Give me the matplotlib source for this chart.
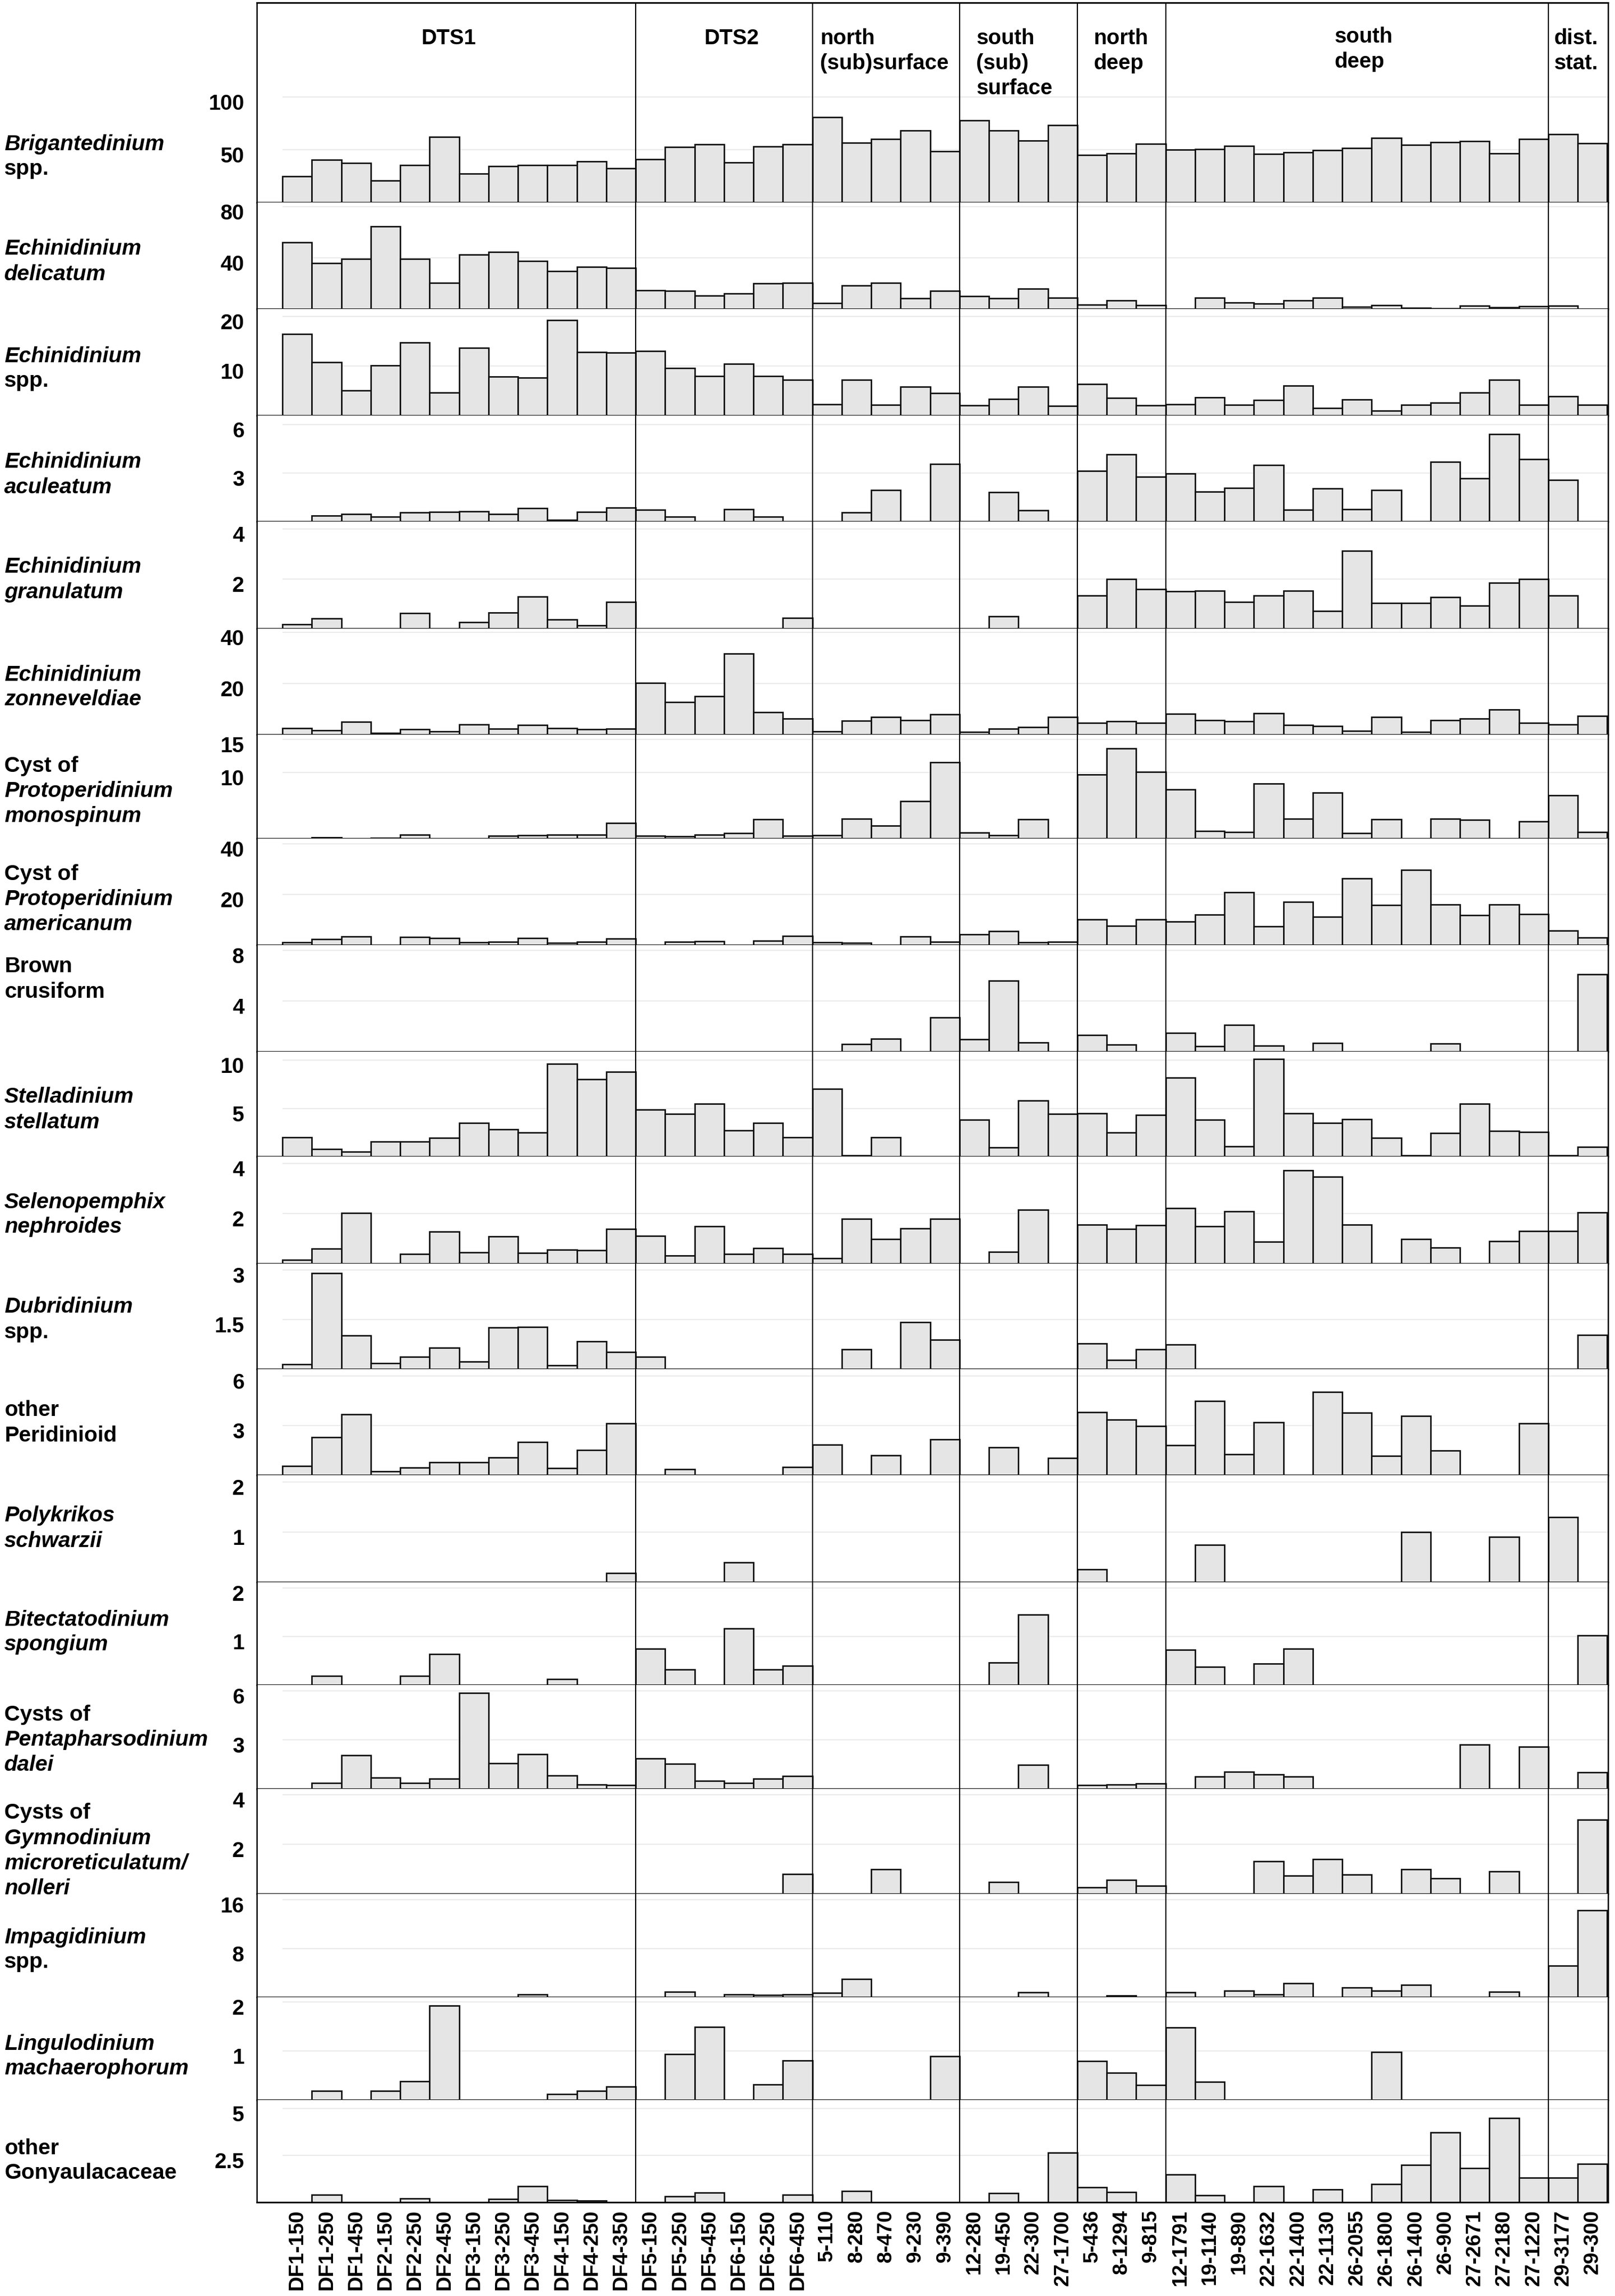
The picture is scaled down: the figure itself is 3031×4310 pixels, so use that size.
import numpy as np
import matplotlib
matplotlib.use("Agg")
import matplotlib.pyplot as plt
import matplotlib.transforms as mtransforms

plt.rcParams['font.family'] = ['Liberation Sans', 'DejaVu Sans']

# ---------------------------------------------------------------- data

samples = ["DF1-150", "DF1-250", "DF1-450", "DF2-150", "DF2-250", "DF2-450",
           "DF3-150", "DF3-250", "DF3-450", "DF4-150", "DF4-250", "DF4-350",
           "DF5-150", "DF5-250", "DF5-450", "DF6-150", "DF6-250", "DF6-450",
           "5-110", "8-280", "8-470", "9-230", "9-390",
           "12-280", "19-450", "22-300", "27-1700",
           "5-436", "8-1294", "9-815",
           "12-1791", "19-1140", "19-890", "22-1632", "22-1400", "22-1130",
           "26-2055", "26-1800", "26-1400", "26-900", "27-2671", "27-2180",
           "27-1220",
           "29-3177", "29-300"]

group_names = [["DTS1"], ["DTS2"], ["north", "(sub)surface"],
               ["south", "(sub)", "surface"], ["north", "deep"],
               ["south", "deep"], ["dist.", "stat."]]
group_sizes = [12, 6, 5, 4, 3, 13, 2]

# values per taxon, in sample order (DTS1 | DTS2 | n-sub | s-sub | n-deep | s-deep | dist)
brigantedinium = [24.6, 40.4, 37.6, 20.6, 35.3, 61.9, 27.4, 34.5, 35.3, 35.3, 39.0, 32.2,
                  41.0, 52.3, 54.8, 37.9, 52.8, 54.8,
                  80.8, 56.5, 60.2, 68.4, 48.6,
                  77.7, 68.4, 58.8, 73.2,
                  44.9, 46.3, 55.4,
                  50.0, 50.6, 53.4, 45.8, 47.5, 49.7, 51.4, 61.3, 54.5, 57.3, 57.9, 46.6, 60.2,
                  64.4, 55.9]
delicatum = [52.1, 35.8, 39.1, 64.7, 39.1, 20.5, 42.6, 44.4, 37.4, 29.5, 32.8, 31.9,
             14.7, 14.2, 10.5, 12.1, 19.8, 20.5,
             4.7, 18.4, 20.5, 8.4, 14.0,
             9.8, 8.4, 15.8, 8.8,
             3.3, 6.5, 2.8,
             0, 8.6, 5.1, 4.2, 6.5, 8.6, 1.6, 2.8, 0.7, 0.3, 2.3, 1.4, 1.9,
             2.3, 0]
echinidinium_spp = [16.4, 10.8, 5.1, 10.1, 14.7, 4.6, 13.6, 7.9, 7.6, 19.2, 12.8, 12.7,
                    13.0, 9.6, 8.0, 10.4, 8.0, 7.2,
                    2.3, 7.2, 2.1, 5.8, 4.5,
                    2.0, 3.3, 5.8, 1.9,
                    6.3, 3.5, 2.0,
                    2.3, 3.7, 2.2, 3.1, 6.0, 1.5, 3.2, 1.0, 2.1, 2.6, 4.6, 7.2, 2.1,
                    3.9, 2.1]
aculeatum = [0, 0.35, 0.47, 0.31, 0.55, 0.6, 0.64, 0.45, 0.82, 0.11, 0.6, 0.85,
             0.73, 0.29, 0, 0.76, 0.29, 0,
             0, 0.56, 1.96, 0, 3.55,
             0, 1.82, 0.69, 0,
             3.13, 4.16, 2.76,
             2.96, 1.84, 2.09, 3.49, 0.73, 2.05, 0.76, 1.95, 0, 3.69, 2.69, 5.41, 3.86,
             2.56, 0]
granulatum = [0.18, 0.40, 0, 0, 0.61, 0, 0.25, 0.64, 1.29, 0.37, 0.12, 1.07,
              0, 0, 0, 0, 0, 0.43,
              0, 0, 0, 0, 0,
              0, 0.49, 0, 0,
              1.33, 1.98, 1.58,
              1.5, 1.51, 1.07, 1.33, 1.51, 0.71, 3.13, 1.02, 1.02, 1.26, 0.93, 1.83, 1.98,
              1.33, 0]
zonneveldiae = [2.5, 1.6, 5.1, 0.7, 2.1, 1.3, 4.0, 2.2, 3.7, 2.5, 2.0, 2.2,
                20.3, 12.8, 15.0, 31.8, 8.7, 6.2,
                1.3, 5.5, 6.8, 5.7, 8.0,
                1.0, 2.3, 3.0, 6.8,
                4.5, 5.3, 4.6,
                8.2, 5.7, 5.3, 8.4, 3.7, 3.4, 1.5, 6.8, 1.0, 5.7, 6.2, 9.9, 4.6,
                3.9, 7.2]
monospinum = [0, 0.2, 0, 0.1, 0.6, 0, 0, 0.4, 0.45, 0.6, 0.6, 2.3,
              0.4, 0.35, 0.55, 0.8, 2.9, 0.4,
              0.5, 3.0, 1.95, 5.6, 11.5,
              0.9, 0.5, 2.9, 0,
              9.7, 13.6, 10.1,
              7.4, 1.1, 1.0, 8.3, 3.0, 6.9, 0.8, 2.9, 0, 3.0, 2.8, 0, 2.6,
              6.5, 1.0]
americanum = [1.05, 2.3, 3.4, 0, 3.2, 2.8, 1.05, 1.2, 2.8, 0.8, 1.2, 2.6,
              0, 1.2, 1.4, 0, 1.75, 3.5,
              1.1, 0.8, 0, 3.4, 1.2,
              4.3, 5.5, 1.05, 1.2,
              10.0, 7.5, 10.2,
              9.2, 11.9, 20.8, 7.4, 17.0, 11.1, 26.3, 15.8, 29.6, 16.0, 11.7, 16.0, 12.3,
              5.7, 2.9]
brown_crusiform = [0, 0, 0, 0, 0, 0, 0, 0, 0, 0, 0, 0,
                   0, 0, 0, 0, 0, 0,
                   0, 0.6, 1.03, 0, 2.7,
                   0.96, 5.6, 0.7, 0,
                   1.3, 0.56, 0,
                   1.47, 0.4, 2.1, 0.47, 0, 0.68, 0, 0, 0, 0.63, 0, 0, 0,
                   0, 6.1]
stelladinium = [2.0, 0.77, 0.49, 1.56, 1.53, 1.93, 3.47, 2.8, 2.5, 9.6, 8.0, 8.8,
                4.85, 4.4, 5.46, 2.7, 3.5, 2.0,
                7.0, 0.1, 2.0, 0, 0,
                3.8, 0.95, 5.8, 4.4,
                4.5, 2.5, 4.3,
                8.2, 3.8, 1.07, 10.1, 4.5, 3.47, 3.9, 1.96, 0.09, 2.45, 5.5, 2.67, 2.55,
                0.1, 1.0]
selenopemphix = [0.15, 0.59, 2.02, 0, 0.39, 1.28, 0.45, 1.09, 0.42, 0.56, 0.54, 1.39,
                 1.1, 0.32, 1.49, 0.38, 0.62, 0.39,
                 0.21, 1.79, 0.99, 1.41, 1.79,
                 0, 0.46, 2.15, 0,
                 1.56, 1.39, 1.54,
                 2.22, 1.49, 2.09, 0.88, 3.72, 3.47, 1.55, 0, 0.99, 0.64, 0, 0.89, 1.29,
                 1.29, 2.05]
dubridinium = [0.15, 2.9, 1.01, 0.17, 0.37, 0.64, 0.22, 1.25, 1.28, 0.11, 0.83, 0.52,
               0.37, 0, 0, 0, 0, 0,
               0, 0.59, 0, 1.41, 0.89,
               0, 0, 0, 0,
               0.77, 0.27, 0.6,
               0.74, 0, 0, 0, 0, 0, 0, 0, 0, 0, 0, 0, 0,
               0, 1.03]
peridinioid = [0.56, 2.3, 3.68, 0.23, 0.45, 0.77, 0.77, 1.08, 2.01, 0.41, 1.53, 3.14,
               0, 0.36, 0, 0, 0, 0.47,
               1.83, 0, 1.2, 0, 2.15,
               0, 1.67, 0, 1.04,
               3.81, 3.36, 2.96,
               1.8, 4.49, 1.26, 3.18, 0, 5.03, 3.77, 1.17, 3.59, 1.47, 0, 0, 3.14,
               0, 0]
polykrikos = [0, 0, 0, 0, 0, 0, 0, 0, 0, 0, 0, 0.18,
              0, 0, 0, 0.39, 0, 0,
              0, 0, 0, 0, 0,
              0, 0, 0, 0,
              0.26, 0, 0,
              0, 0.75, 0, 0, 0, 0, 0, 0, 1.0, 0, 0, 0.91, 0,
              1.3, 0]
bitectatodinium = [0, 0.19, 0, 0, 0.19, 0.64, 0, 0, 0, 0.12, 0, 0,
                   0.75, 0.32, 0, 1.16, 0.32, 0.4,
                   0, 0, 0, 0, 0,
                   0, 0.46, 1.45, 0,
                   0, 0, 0,
                   0.73, 0.37, 0, 0.44, 0.75, 0, 0, 0, 0, 0, 0, 0, 0,
                   0, 1.02]
pentapharsodinium = [0, 0.36, 2.04, 0.69, 0.36, 0.62, 5.87, 1.55, 2.11, 0.8, 0.27, 0.24,
                     1.87, 1.53, 0.49, 0.36, 0.62, 0.78,
                     0, 0, 0, 0, 0,
                     0, 0, 1.45, 0,
                     0.24, 0.27, 0.31,
                     0, 0.75, 1.04, 0.87, 0.75, 0, 0, 0, 0, 0, 2.71, 0, 2.58,
                     0, 1.0]
gymnodinium = [0, 0, 0, 0, 0, 0, 0, 0, 0, 0, 0, 0,
               0, 0, 0, 0, 0, 0.8,
               0, 0, 0.98, 0, 0,
               0, 0.47, 0, 0,
               0.26, 0.56, 0.32,
               0, 0, 0, 1.31, 0.74, 1.39, 0.78, 0, 0.98, 0.63, 0, 0.91, 0,
               0, 3.0]
impagidinium = [0, 0, 0, 0, 0, 0, 0, 0, 0.44, 0, 0, 0,
                0, 0.92, 0, 0.44, 0.34, 0.44,
                0.68, 3.0, 0, 0, 0,
                0, 0, 0.78, 0,
                0, 0.24, 0,
                0.78, 0, 1.02, 0.44, 2.28, 0, 1.6, 1.02, 1.99, 0, 0, 0.92, 0,
                5.19, 14.3]
lingulodinium = [0, 0.19, 0, 0.18, 0.38, 1.93, 0, 0, 0, 0.12, 0.19, 0.27,
                 0, 0.94, 1.49, 0, 0.32, 0.8,
                 0, 0, 0, 0, 0.89,
                 0, 0, 0, 0,
                 0.79, 0.56, 0.31,
                 1.48, 0.37, 0, 0, 0, 0, 0, 0.98, 0, 0, 0, 0, 0,
                 0, 0]
gonyaulacaceae = [0, 0.4, 0, 0, 0.19, 0, 0, 0.16, 0.84, 0.11, 0.09, 0,
                  0, 0.32, 0.51, 0, 0, 0.4,
                  0, 0.6, 0, 0, 0,
                  0, 0.47, 0, 2.64,
                  0.79, 0.54, 0,
                  1.47, 0.36, 0, 0.85, 0, 0.68, 0, 0.96, 1.99, 3.73, 1.82, 4.49, 1.3,
                  1.3, 2.04]

# taxon names: (line, italic)
taxa_names = [
    [("Brigantedinium", True), ("spp.", False)],
    [("Echinidinium", True), ("delicatum", True)],
    [("Echinidinium", True), ("spp.", False)],
    [("Echinidinium", True), ("aculeatum", True)],
    [("Echinidinium", True), ("granulatum", True)],
    [("Echinidinium", True), ("zonneveldiae", True)],
    [("Cyst of", False), ("Protoperidinium", True), ("monospinum", True)],
    [("Cyst of", False), ("Protoperidinium", True), ("americanum", True)],
    [("Brown", False), ("crusiform", False)],
    [("Stelladinium", True), ("stellatum", True)],
    [("Selenopemphix", True), ("nephroides", True)],
    [("Dubridinium", True), ("spp.", False)],
    [("other", False), ("Peridinioid", False)],
    [("Polykrikos", True), ("schwarzii", True)],
    [("Bitectatodinium", True), ("spongium", True)],
    [("Cysts of", False), ("Pentapharsodinium", True), ("dalei", True)],
    [("Cysts of", False), ("Gymnodinium", True), ("microreticulatum/", True), ("nolleri", True)],
    [("Impagidinium", True), ("spp.", False)],
    [("Lingulodinium", True), ("machaerophorum", True)],
    [("other", False), ("Gonyaulacaceae", False)],
]

taxa_values = [brigantedinium, delicatum, echinidinium_spp, aculeatum, granulatum,
               zonneveldiae, monospinum, americanum, brown_crusiform, stelladinium,
               selenopemphix, dubridinium, peridinioid, polykrikos, bitectatodinium,
               pentapharsodinium, gymnodinium, impagidinium, lingulodinium,
               gonyaulacaceae]

panel_ticks = [[50, 100], [40, 80], [10, 20], [3, 6], [2, 4], [20, 40], [10, 15],
               [20, 40], [4, 8], [5, 10], [2, 4], [1.5, 3], [3, 6], [1, 2], [1, 2],
               [3, 6], [2, 4], [8, 16], [1, 2], [2.5, 5]]
panel_ticklabels = [["50", "100"], ["40", "80"], ["10", "20"], ["3", "6"], ["2", "4"],
                    ["20", "40"], ["10", "15"], ["20", "40"], ["4", "8"], ["5", "10"],
                    ["2", "4"], ["1.5", "3"], ["3", "6"], ["1", "2"], ["1", "2"],
                    ["3", "6"], ["2", "4"], ["8", "16"], ["1", "2"], ["2.5", "5"]]

# ---------------------------------------------------------------- layout (pixels)

W, H = 3031, 4310
frame_left, frame_right, frame_top = 482, 3018, 5
baselines = [380, 580, 780, 979, 1180, 1379, 1574, 1774, 1974, 2171,
             2372, 2570, 2769, 2970, 3163, 3358, 3555, 3749, 3942, 4134]
ymax = [189.4, 83.3, 21.5, 6.57, 4.3, 41.5, 15.7, 42.1, 8.42, 10.9,
        4.28, 3.19, 6.42, 2.14, 2.12, 6.35, 4.24, 17.0, 2.1, 5.45]
name_centers = [294, 491, 692, 891, 1088, 1290, 1485, 1688, 1838, 2083,
                2280, 2477, 2671, 2869, 3064, 3266, 3474, 3660, 3860, 4056]
xlim = (-1.37, 44.53)
line_pitch = 47

bar_fill = '#e5e5e5'
grid_col = '#ebebeb'
fs = 29

fig = plt.figure(figsize=(W / 100, H / 100), dpi=100)

xpos = np.arange(len(samples))
bounds = np.cumsum(group_sizes)[:-1] - 0.5
tops = [frame_top] + baselines[:-1]
label_shift = mtransforms.ScaledTranslation(0, -9 / 100, fig.dpi_scale_trans)

axes = []
for k, vals in enumerate(taxa_values):
    top, base = tops[k], baselines[k]
    ax = fig.add_axes([frame_left / W, 1 - base / H,
                       (frame_right - frame_left) / W, (base - top) / H])
    axes.append(ax)
    ax.set_xlim(*xlim)
    ax.set_ylim(0, ymax[k])

    ax.hlines(panel_ticks[k], -0.5, xlim[1], colors=grid_col, lw=1.6, zorder=0)

    vals = np.asarray(vals, dtype=float)
    keep = vals > 0
    ax.bar(xpos[keep], vals[keep], width=1.0, color=bar_fill,
           edgecolor='#111111', linewidth=2.0, zorder=2)

    for b in bounds:
        ax.axvline(b, color='black', lw=1.6, zorder=3)

    for side in ['left', 'right']:
        ax.spines[side].set_linewidth(1.8)
        ax.spines[side].set_color('black')
    ax.spines['bottom'].set_linewidth(2.2)
    ax.spines['bottom'].set_color('black')
    ax.spines['bottom'].set_zorder(4)
    if k == 0:
        ax.spines['top'].set_linewidth(2.2)
    else:
        ax.spines['top'].set_visible(False)

    ax.set_yticks(panel_ticks[k])
    ax.set_yticklabels(panel_ticklabels[k], fontsize=fs, fontweight='bold')
    ax.tick_params(axis='y', length=0, pad=17)
    for t in ax.get_yticklabels():
        t.set_transform(t.get_transform() + label_shift)

    if k == len(taxa_values) - 1:
        ax.set_xticks(xpos)
        ax.set_xticklabels(samples, rotation=90, fontsize=fs - 1, fontweight='bold')
        ax.tick_params(axis='x', length=0, pad=10)
    else:
        ax.set_xticks([])

    # taxon name on the left
    lines = taxa_names[k]
    n = len(lines)
    for j, (txt, ital) in enumerate(lines):
        yc = name_centers[k] + (j - (n - 1) / 2) * line_pitch
        fig.text(8 / W, 1 - yc / H, txt, fontsize=fs + 0.5, fontweight='bold',
                 style='italic' if ital else 'normal', ha='left', va='center')

# group headers inside the top panel
head = mtransforms.blended_transform_factory(axes[0].transData, fig.transFigure)
head_x = [5.15, 14.76, 17.76, 23.07, 27.05, 35.23, 42.69]
head_align = ['center', 'center', 'left', 'left', 'left', 'left', 'left']
head_y0 = [72, 72, 72, 72, 72, 69, 72]
for g, lines in enumerate(group_names):
    for j, txt in enumerate(lines):
        axes[0].text(head_x[g], 1 - (head_y0[g] + j * line_pitch) / H, txt,
                     transform=head, fontsize=fs, fontweight='bold',
                     ha=head_align[g], va='center')

fig.savefig("out.png", dpi=100)
